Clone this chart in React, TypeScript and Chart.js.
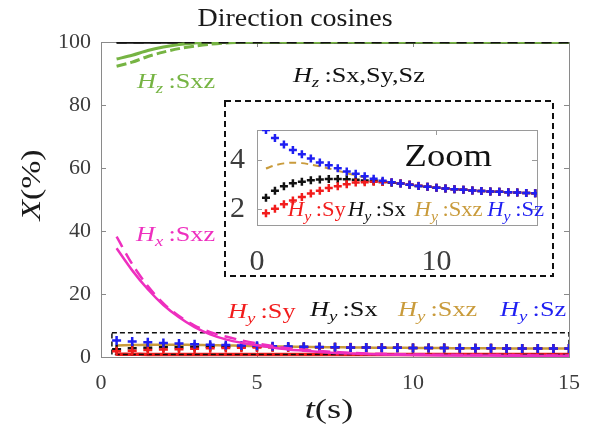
import React, { useEffect, useRef } from "react";
import { Chart, registerables } from "chart.js";

Chart.register(...registerables);

const FONT = '"Liberation Serif", "Times New Roman", serif';

// ---------- axes ----------
const xTicks = [0, 5, 10, 15];
const yTicks = [0, 20, 40, 60, 80, 100];
const insetXTicks = [0, 10];
const insetYTicks = [2, 4];

// ---------- line series (main plot) ----------
const tLine = [0.5, 1, 1.5, 2, 2.5, 3, 3.5, 4, 4.5, 5, 5.5, 6, 6.5, 7, 7.5, 8, 9, 10, 11, 12, 13, 14, 15];
const hzSxSySz = [100, 100, 100, 100, 100, 100, 100, 100, 100, 100, 100, 100, 100, 100, 100, 100, 100, 100, 100, 100, 100, 100, 100];
const hzSxzSolid = [94.6, 95.8, 97.3, 98.4, 99.2, 99.7, 99.9, 100, 100, 100, 100, 100, 100, 100, 100, 100, 100, 100, 100, 100, 100, 100, 100];
const hzSxzDashed = [92.3, 93.6, 95.4, 96.8, 97.9, 98.7, 99.3, 99.7, 99.9, 100, 100, 100, 100, 100, 100, 100, 100, 100, 100, 100, 100, 100, 100];
const hxSxzDashed = [38.2, 29.5, 22.5, 17.0, 13.0, 10.0, 7.9, 6.5, 5.3, 4.3, 3.5, 2.8, 2.3, 1.9, 1.6, 1.3, 1.0, 0.8, 0.7, 0.6, 0.6, 0.5, 0.5];
const hxSxzSolid = [34.5, 27.5, 21.5, 16.5, 12.6, 9.5, 7.2, 5.6, 4.5, 3.7, 3.0, 2.4, 2.0, 1.6, 1.3, 1.1, 0.8, 0.6, 0.5, 0.5, 0.4, 0.4, 0.4];
const hyBaseLine = [0.9, 0.9, 0.8, 0.8, 0.8, 0.8, 0.8, 0.8, 0.8, 0.8, 0.8, 0.8, 0.8, 0.8, 0.8, 0.8, 0.8, 0.8, 0.8, 0.8, 0.8, 0.8, 0.8];

// ---------- H_y series (markers, shown in both plots) ----------
const tMark = [0.5, 1, 1.5, 2, 2.5, 3, 3.5, 4, 4.5, 5, 5.5, 6, 6.5, 7, 7.5, 8, 8.5, 9, 9.5, 10, 10.5, 11, 11.5, 12, 12.5, 13, 13.5, 14, 14.5, 15, 15.5];
const hySz = [5.25, 4.92, 4.65, 4.43, 4.25, 4.08, 3.92, 3.80, 3.68, 3.55, 3.45, 3.35, 3.25, 3.17, 3.10, 3.05, 3.00, 2.95, 2.92, 2.88, 2.85, 2.82, 2.80, 2.77, 2.75, 2.73, 2.71, 2.69, 2.68, 2.66, 2.65];
const hySx = [2.47, 2.76, 2.94, 3.06, 3.13, 3.19, 3.22, 3.24, 3.24, 3.23, 3.21, 3.18, 3.15, 3.12, 3.08, 3.05, 3.00, 2.95, 2.92, 2.88, 2.85, 2.82, 2.80, 2.77, 2.75, 2.73, 2.71, 2.69, 2.68, 2.66, 2.65];
const hySy = [1.83, 2.02, 2.20, 2.36, 2.50, 2.64, 2.76, 2.87, 2.94, 3.02, 3.09, 3.11, 3.13, 3.12, 3.10, 3.06, 3.01, 2.96, 2.92, 2.88, 2.85, 2.82, 2.80, 2.77, 2.75, 2.73, 2.71, 2.69, 2.68, 2.66, 2.65];
const hySxz = [3.67, 3.80, 3.88, 3.91, 3.89, 3.83, 3.76, 3.67, 3.58, 3.48, 3.39, 3.30, 3.22, 3.16, 3.10, 3.05, 3.00, 2.95, 2.92, 2.88, 2.85, 2.82, 2.80, 2.77, 2.75, 2.73, 2.71, 2.69, 2.68, 2.66, 2.65];

// zoom region marked in main plot
const zoomBoxT = [0.35, 15];
const zoomBoxY = [0.8, 7.7];

// ---------- colours ----------
const GREEN = "#76b443";
const MAGENTA = "#ee2fbf";
const RED = "#f21c1c";
const GOLD = "#c99b3b";
const BLUE = "#1f1ff2";
const BLACK = "#111111";

type Seg = { t: string; it?: boolean; sub?: boolean };

function drawRich(
  ctx: CanvasRenderingContext2D,
  segs: Seg[],
  x: number,
  y: number,
  size: number,
  color: string,
  sx = 1,
  align: "left" | "center" = "left",
  rot = 0
) {
  ctx.save();
  ctx.fillStyle = color;
  ctx.textBaseline = "alphabetic";
  ctx.textAlign = "left";
  const subSize = Math.round(size * 0.72);
  const font = (s: Seg) => `${s.it ? "italic " : ""}${s.sub ? subSize : size}px ${FONT}`;
  const widths = segs.map((s) => {
    ctx.font = font(s);
    return ctx.measureText(s.t).width;
  });
  const total = widths.reduce((a, b) => a + b, 0);
  ctx.translate(x, y);
  if (rot) ctx.rotate(rot);
  ctx.scale(sx, 1);
  let cx = align === "center" ? -total / 2 : 0;
  segs.forEach((s, i) => {
    ctx.font = font(s);
    ctx.fillText(s.t, cx, s.sub ? size * 0.24 : 0);
    cx += widths[i];
  });
  ctx.restore();
}

const H = (sub: string, rest: string): Seg[] => [
  { t: "H", it: true },
  { t: sub, it: true, sub: true },
  { t: "\u2009:" + rest },
];

const pts = (xs: number[], ys: number[]) => xs.map((x, i) => ({ x, y: ys[i] }));

function framePlugin(tickLen: number, color: string, xt: number[], yt: number[], dashedBorder: boolean) {
  return {
    id: "frame",
    beforeDraw(chart: any) {
      const { ctx, width, height } = chart;
      ctx.save();
      ctx.fillStyle = "#ffffff";
      ctx.fillRect(0, 0, width, height);
      if (dashedBorder) {
        ctx.strokeStyle = "#111";
        ctx.lineWidth = 2;
        ctx.setLineDash([6, 4]);
        ctx.strokeRect(1, 1, width - 2, height - 2);
      }
      ctx.restore();
    },
    beforeDatasetsDraw(chart: any) {
      const { ctx, chartArea: a, scales } = chart;
      ctx.save();
      ctx.strokeStyle = color;
      ctx.lineWidth = 1;
      ctx.strokeRect(Math.round(a.left) + 0.5, Math.round(a.top) + 0.5, Math.round(a.right - a.left), Math.round(a.bottom - a.top));
      ctx.beginPath();
      xt.forEach((v) => {
        const px = Math.round(scales.x.getPixelForValue(v)) + 0.5;
        ctx.moveTo(px, a.bottom);
        ctx.lineTo(px, a.bottom - tickLen);
        ctx.moveTo(px, a.top);
        ctx.lineTo(px, a.top + tickLen);
      });
      yt.forEach((v) => {
        const py = Math.round(scales.y.getPixelForValue(v)) + 0.5;
        ctx.moveTo(a.left, py);
        ctx.lineTo(a.left + tickLen, py);
        ctx.moveTo(a.right, py);
        ctx.lineTo(a.right - tickLen, py);
      });
      ctx.stroke();
      ctx.restore();
    },
  };
}

const mainLabels = {
  id: "mainLabels",
  afterDatasetsDraw(chart: any) {
    const { ctx, scales } = chart;
    const X = (v: number) => scales.x.getPixelForValue(v);
    const Y = (v: number) => scales.y.getPixelForValue(v);
    const sz = 21;
    const sx = 1.25;
    drawRich(ctx, H("z", "Sxz"), X(1.15), Y(85.4), sz, GREEN, sx);
    drawRich(ctx, H("z", "Sx,Sy,Sz"), X(6.15), Y(87.3), sz, BLACK, sx);
    drawRich(ctx, H("x", "Sxz"), X(1.12), Y(36.8), sz, MAGENTA, sx);
    drawRich(ctx, H("y", "Sy"), X(4.07), Y(12.4), sz, RED, sx);
    drawRich(ctx, H("y", "Sx"), X(6.7), Y(13), sz, BLACK, sx);
    drawRich(ctx, H("y", "Sxz"), X(9.52), Y(13), sz, GOLD, sx);
    drawRich(ctx, H("y", "Sz"), X(12.79), Y(13), sz, BLUE, sx);
    // title and axis titles
    drawRich(ctx, [{ t: "Direction cosines" }], 295, 26, 25, "#1a1a1a", 1.12, "center");
    drawRich(ctx, [{ t: "t", it: true }, { t: "(s)" }], 329, 418, 27, "#1a1a1a", 1.35, "center");
    drawRich(ctx, [{ t: "X", it: true }, { t: "(%)" }], 40, 185, 27, "#1a1a1a", 1.25, "center", -Math.PI / 2);
  },
};

const insetLabels = {
  id: "insetLabels",
  afterDatasetsDraw(chart: any) {
    const { ctx, scales } = chart;
    const X = (v: number) => scales.x.getPixelForValue(v);
    const Y = (v: number) => scales.y.getPixelForValue(v);
    drawRich(ctx, [{ t: "Zoom" }], X(8.22), Y(3.77), 31, "#111", 1.18);
    const sz = 20;
    const sx = 1.13;
    drawRich(ctx, H("y", "Sy"), X(1.72), Y(1.7), sz, RED, sx);
    drawRich(ctx, H("y", "Sx"), X(5.06), Y(1.7), sz, BLACK, sx);
    drawRich(ctx, H("y", "Sxz"), X(8.78), Y(1.7), sz, GOLD, sx);
    drawRich(ctx, H("y", "Sz"), X(12.83), Y(1.7), sz, BLUE, sx);
  },
};

const lineDs = (label: string, xs: number[], ys: number[], color: string, width: number, dash: number[], order: number) => ({
  label,
  data: pts(xs, ys),
  borderColor: color,
  backgroundColor: color,
  borderWidth: width,
  borderDash: dash,
  pointRadius: 0,
  tension: 0.3,
  fill: false,
  order,
});

const crossDs = (label: string, xs: number[], ys: number[], color: string, radius: number, order: number) => ({
  label,
  data: pts(xs, ys),
  showLine: false,
  pointStyle: "cross",
  pointRadius: radius,
  pointBorderWidth: 2.5,
  borderColor: color,
  backgroundColor: color,
  pointBorderColor: color,
  order,
});

const tickFont = (size: number) => ({ family: FONT, size });

export default function App() {
  const mainRef = useRef<HTMLCanvasElement>(null);
  const insetRef = useRef<HTMLCanvasElement>(null);

  useEffect(() => {
    const boxPts = [
      { x: zoomBoxT[0], y: zoomBoxY[1] },
      { x: zoomBoxT[1], y: zoomBoxY[1] },
      { x: zoomBoxT[1], y: zoomBoxY[0] },
      { x: zoomBoxT[0], y: zoomBoxY[0] },
      { x: zoomBoxT[0], y: zoomBoxY[1] },
    ];
    const main = new Chart(mainRef.current as HTMLCanvasElement, {
      type: "line",
      data: {
        datasets: [
          lineDs("Hz:Sx,Sy,Sz dashed", tLine, hzSxSySz, BLACK, 3, [10, 7], 0),
          lineDs("Hz:Sxz", tLine, hzSxzSolid, GREEN, 3, [], 1),
          lineDs("Hz:Sxz (2)", tLine, hzSxzDashed, GREEN, 3, [10, 4], 1),
          lineDs("Hz:Sx,Sy,Sz", tLine, hzSxSySz, BLACK, 3.5, [], 2),
          lineDs("Hx:Sxz", tLine, hxSxzSolid, MAGENTA, 2.5, [], 3),
          lineDs("Hx:Sxz (2)", tLine, hxSxzDashed, MAGENTA, 2.5, [12, 7], 3),
          crossDs("Hy:Sz", tMark, hySz, BLUE, 4.5, 4),
          crossDs("Hy:Sy", tMark, hySy, RED, 4.5, 5),
          crossDs("Hy:Sx", tMark, hySx, BLACK, 4.5, 6),
          lineDs("Hy:Sxz", tMark, hySxz, GOLD, 2.5, [], 7),
          {
            label: "zoom",
            data: boxPts,
            borderColor: "#111",
            borderWidth: 1.5,
            borderDash: [5, 3],
            pointRadius: 0,
            tension: 0,
            fill: false,
            order: 8,
          },
          lineDs("Hy:Sy line", tLine, hyBaseLine, RED, 3.5, [], 9),
        ] as any,
      },
      options: {
        responsive: false,
        animation: false,
        devicePixelRatio: 1,
        layout: { padding: { top: 42, right: 24, left: 0, bottom: 0 } },
        plugins: { legend: { display: false }, tooltip: { enabled: false }, title: { display: false } },
        scales: {
          x: {
            type: "linear",
            min: 0,
            max: 15,
            grid: { display: false, drawTicks: false },
            border: { display: false },
            ticks: { font: tickFont(22), color: "#3c3c3c", padding: 13, maxRotation: 0 },
            afterBuildTicks: (s: any) => {
              s.ticks = xTicks.map((v) => ({ value: v }));
            },
            afterFit: (s: any) => {
              s.height = 79;
            },
          },
          y: {
            type: "linear",
            min: 0,
            max: 100,
            grid: { display: false, drawTicks: false },
            border: { display: false },
            ticks: { font: tickFont(22), color: "#3c3c3c", padding: 10 },
            afterBuildTicks: (s: any) => {
              s.ticks = yTicks.map((v) => ({ value: v }));
            },
            afterFit: (s: any) => {
              s.width = 101;
            },
          },
        },
      } as any,
      plugins: [framePlugin(5, "#8a8a8a", xTicks, yTicks, false), mainLabels],
    });

    const inset = new Chart(insetRef.current as HTMLCanvasElement, {
      type: "line",
      data: {
        datasets: [
          crossDs("Hy:Sz", tMark, hySz, BLUE, 4, 0),
          crossDs("Hy:Sy", tMark, hySy, RED, 4, 1),
          crossDs("Hy:Sx", tMark, hySx, BLACK, 4, 2),
          lineDs("Hy:Sxz", tMark, hySxz, GOLD, 2, [7, 5], 3),
        ] as any,
      },
      options: {
        responsive: false,
        animation: false,
        devicePixelRatio: 1,
        layout: { padding: { top: 7, right: 17, left: 0, bottom: 0 } },
        plugins: { legend: { display: false }, tooltip: { enabled: false } },
        scales: {
          x: {
            type: "linear",
            min: 0,
            max: 15.6,
            grid: { display: false, drawTicks: false },
            border: { display: false },
            ticks: { font: tickFont(30), color: "#3c3c3c", padding: 19, maxRotation: 0 },
            afterBuildTicks: (s: any) => {
              s.ticks = insetXTicks.map((v) => ({ value: v }));
            },
            afterFit: (s: any) => {
              s.height = 52;
            },
          },
          y: {
            type: "linear",
            min: 1.35,
            max: 5.25,
            grid: { display: false, drawTicks: false },
            border: { display: false },
            ticks: { font: tickFont(30), color: "#3c3c3c", padding: 12 },
            afterBuildTicks: (s: any) => {
              s.ticks = insetYTicks.map((v) => ({ value: v }));
            },
            afterFit: (s: any) => {
              s.width = 33;
            },
          },
        },
      } as any,
      plugins: [framePlugin(5, "#9a9a9a", insetXTicks, insetYTicks, true), insetLabels],
    });

    return () => {
      main.destroy();
      inset.destroy();
    };
  }, []);

  return (
    <div style={{ position: "fixed", left: 0, top: 0, width: 593, height: 436, background: "#fff" }}>
      <canvas ref={mainRef} width={593} height={436} style={{ position: "absolute", left: 0, top: 0 }} />
      <canvas ref={insetRef} width={330} height={177} style={{ position: "absolute", left: 224, top: 100 }} />
    </div>
  );
}
